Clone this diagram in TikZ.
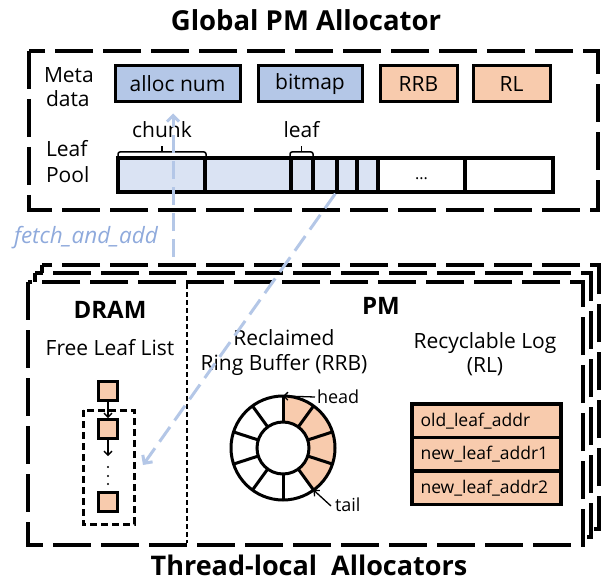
\documentclass[tikz,border=0pt]{standalone}
\usepackage{fontspec}
\setmainfont{Open Sans}
\usetikzlibrary{arrows.meta}
\definecolor{mblue}{HTML}{B4C7E7}
\definecolor{lblue}{HTML}{DAE3F3}
\definecolor{morange}{HTML}{F8CBAD}
\definecolor{arrblue}{HTML}{B4C7E7}
\definecolor{txtblue}{HTML}{8FAADC}
\tikzset{
  fsz/.style={font=\fontsize{#1}{#1}\selectfont},
  bsz/.style={font=\fontsize{#1}{#1}\selectfont\bfseries},
  lbl/.style={inner sep=0pt, outer sep=0pt},
  bigdash/.style={line width=4pt, dash pattern=on 38pt off 10pt},
  metabox/.style={draw, line width=3pt, minimum height=36pt, inner sep=0pt, fsz=21},
  cell/.style={draw, line width=3.3pt, minimum height=34pt, inner sep=0pt},
  ringline/.style={line width=3pt},
  fleaf/.style={draw, line width=3pt, fill=morange, minimum size=19pt, inner sep=0pt},
  rlrow/.style={draw, line width=3.5pt, fill=morange, minimum height=33.5pt, text width=132pt, inner xsep=8.5pt, inner ysep=0pt, align=left, fsz=17.5},
  blk/.style={line width=1.3pt, -{Straight Barb[length=4pt,width=8pt]}},
  bluearr/.style={draw=arrblue, line width=3pt, dash pattern=on 18pt off 8pt, -{Straight Barb[length=6pt,width=12pt]}},
}
\begin{document}
\begin{tikzpicture}[x=1pt,y=-1pt]
\useasboundingbox (0,0) rectangle (602,580);

% ---------- Global PM Allocator ----------
\node[lbl, bsz=27.5, anchor=base] (gtitle) at (306,31) {Global PM Allocator};
\draw[bigdash] (29,51) rectangle (598,210);

\node[lbl, fsz=21, anchor=base west] (meta1) at (44,83) {Meta};
\node[lbl, fsz=21, anchor=base west] (meta2) at (46,107) {data};
\node[lbl, fsz=21, anchor=base west] (leaf1) at (46,157) {Leaf};
\node[lbl, fsz=21, anchor=base west] (leaf2) at (46,183) {Pool};

\node[metabox, fill=mblue, minimum width=125pt] (alloc) at (177.5,84) {alloc num};
\node[metabox, fill=mblue, minimum width=104pt] (bitmap) at (310,84) {bitmap};
\node[metabox, fill=morange, minimum width=77pt] (rrbm) at (418.5,84) {RRB};
\node[metabox, fill=morange, minimum width=77pt] (rlm) at (511.5,84) {RL};

% leaf pool cells
\node[cell, fill=lblue, minimum width=87pt] (c1) at (161.5,175) {};
\node[cell, fill=lblue, minimum width=86pt] (c2) at (248,175) {};
\node[cell, fill=lblue, minimum width=22pt] (c3) at (302,175) {};
\node[cell, fill=lblue, minimum width=24pt] (c4) at (325,175) {};
\node[cell, fill=lblue, minimum width=20pt] (c5) at (347,175) {};
\node[cell, fill=lblue, minimum width=21pt] (c6) at (367.5,175) {};
\node[cell, fill=white, minimum width=87pt] (c7) at (421.5,175) {};
\node[cell, fill=white, minimum width=88pt] (c8) at (509,175) {};
\node[lbl, fsz=16, anchor=base] (dots) at (421.5,179) {...};

% braces
\draw[line width=1.5pt, rounded corners=2pt] (118,158) -- (118,152) -- (206,152) -- (206,158);
\draw[line width=1.5pt] (162,152) -- (162,146);
\draw[line width=1.5pt, rounded corners=2pt] (290,158) -- (290,152) -- (313,152) -- (313,158);
\draw[line width=1.5pt] (301.5,152) -- (301.5,146);
\node[lbl, fsz=21, anchor=base] (chunk) at (162,138) {chunk};
\node[lbl, fsz=21, anchor=base] (leafl) at (301.5,138) {leaf};

\node[lbl, anchor=base west, text=txtblue, font=\fontsize{22.5}{22.5}\selectfont\itshape] (fetch) at (14,243) {fetch\_and\_add};

% ---------- Thread-local allocators ----------
\draw[bigdash, fill=white] (42,265) rectangle (599,529);
\draw[bigdash, fill=white] (35,273) rectangle (591,537);
\draw[bigdash, fill=white] (28,282) rectangle (583,545);
\coordinate (sepT) at (187,284);
\coordinate (sepB) at (187,543);
\draw[line width=1.3pt, dash pattern=on 5pt off 3pt] (sepT) -- (sepB);

\node[lbl, bsz=24, anchor=base] (dram) at (110,318) {DRAM};
\node[lbl, bsz=24, anchor=base] (pm) at (381,314) {PM};
\node[lbl, fsz=21, anchor=base] (fll) at (110,355) {Free Leaf List};
\node[lbl, fsz=21, anchor=base] (rrb1) at (284,345) {Reclaimed};
\node[lbl, fsz=21, anchor=base] (rrb2) at (284,370) {Ring Buffer (RRB)};
\node[lbl, fsz=21, anchor=base] (rl1) at (485,348) {Recyclable Log};
\node[lbl, fsz=21, anchor=base] (rl2) at (485,372) {(RL)};

% free leaf list
\draw[line width=3pt, dash pattern=on 7pt off 4pt] (83,410) rectangle (134,524);
\node[fleaf] (f1) at (108,391) {};
\node[fleaf] (f2) at (108,429) {};
\node[fleaf] (f3) at (108,502) {};
\coordinate (f2e) at (108,456);
\draw[blk] (f1.south) -- (f2.north);
\draw[blk] (f2.south) -- (f2e);
\foreach \yy in {467,476,484} \fill (108,\yy) circle (1.2pt);

% ring buffer
\begin{scope}[shift={(283,448)}, yscale=-1]
  \foreach \a [evaluate=\a as \b using \a-36] in {90,54,18,-18}{
    \fill[morange] (\a:26) -- (\a:52) arc[start angle=\a, end angle=\b, radius=52] -- (\b:26) arc[start angle=\b, end angle=\a, radius=26] -- cycle;
  }
  \foreach \a in {90,54,...,-234} \draw[ringline] (\a:26) -- (\a:52);
\end{scope}
\node[draw, circle, line width=3pt, minimum size=104pt, inner sep=0pt, outer sep=0pt] (ring) at (283,448) {};
\node[draw, circle, line width=3pt, minimum size=52pt, inner sep=0pt] (ringin) at (283,448) {};
\node[lbl, fsz=18, anchor=base west] (head) at (317,403) {head};
\node[lbl, fsz=18, anchor=base west] (tail) at (335,511) {tail};
\coordinate (heads) at (315,397);
\coordinate (tails) at (331,506);
\draw[blk] (heads) -- (ring.north);
\draw[blk] (tails) -- (ring.-54);

% recyclable log
\node[rlrow] (r1) at (486.5,420.8) {old\_leaf\_addr};
\node[rlrow] (r2) at (486.5,454.3) {new\_leaf\_addr1};
\node[rlrow] (r3) at (486.5,487.8) {new\_leaf\_addr2};

\node[lbl, bsz=27, anchor=base] (ttitle) at (309,575) {Thread-local~~Allocators};

% ---------- blue arrows ----------
\coordinate (fa1) at (173,257);
\draw[bluearr] (fa1) -- ([yshift=-10pt]fa1 |- alloc.south);
\coordinate (fa2) at (143,465);
\draw[bluearr] (c5.south west) -- (fa2);
\end{tikzpicture}
\end{document}
